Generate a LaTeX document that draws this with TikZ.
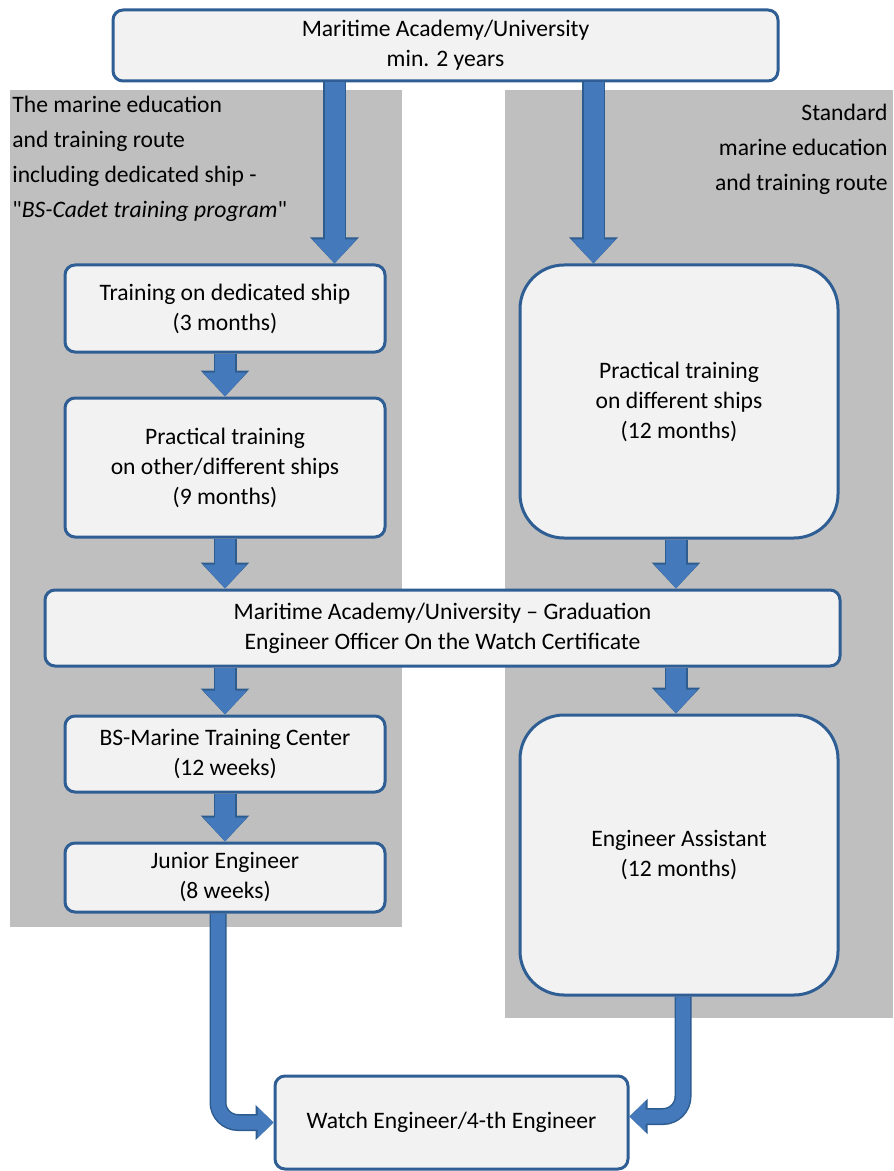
\documentclass[tikz,border=0pt]{standalone}
\usepackage{fontspec}
\setmainfont{Carlito}
\usetikzlibrary{arrows.meta,positioning,calc}
\definecolor{panelgrey}{HTML}{BFBFBF}
\definecolor{boxfill}{HTML}{F2F2F2}
\definecolor{boxline}{HTML}{2E5E93}
\definecolor{flowblue}{HTML}{4479BB}
\definecolor{flowedge}{HTML}{2D5C8F}

\begin{document}
\begin{tikzpicture}[x=0.5pt,y=-0.5pt,
  every node/.style={font=\fontsize{11.8}{15}\selectfont},
  box/.style={draw=boxline,fill=boxfill,line width=1.5pt,rounded corners=5pt,align=center,inner sep=0pt,minimum width=160pt},
  bigbox/.style={box,rounded corners=22pt,minimum width=159pt},
  note/.style={inner sep=0pt,font=\fontsize{11.8}{17.5}\selectfont},
  flow/.style={draw=flowblue,line width=10pt,-{Triangle[length=12pt,width=21pt]},
    preaction={draw=flowedge,line width=11.5pt,-{Triangle[length=13pt,width=23.5pt]}}},
  turn/.style={draw=flowblue,line width=7pt,rounded corners=10pt,-{Triangle[length=8pt,width=15pt]},
    preaction={draw=flowedge,line width=8.5pt,-{Triangle[length=9pt,width=17pt]}}}]
  \useasboundingbox (0,0) rectangle (893,1171);
  \fill[panelgrey] (10,90) rectangle (402,927);
  \fill[panelgrey] (505,90) rectangle (893,1018);
  \node[note,anchor=north west,align=left] (cadetnote) at (12,96)
    {The marine education\\and training route\\including dedicated ship -\\\textquotedbl\textit{BS-Cadet training program}\textquotedbl};
  \node[note,anchor=north east,align=right] (stdnote) at (888,104)
    {Standard\\marine education\\and training route};

  \node[box,minimum width=332.5pt,minimum height=35.5pt] (academy) at (445.5,45.5) {Maritime Academy/University\\min. 2 years};
  \node[box,minimum height=43.5pt] (dedicated) at (225,308.5) {Training on dedicated ship\\(3 months)};
  \node[box,minimum height=69.5pt] (othership) at (225,467.5) {Practical training\\on other/different ships\\(9 months)};
  \node[bigbox,minimum height=136.5pt] (diffship) at (679,401.5) {Practical training\\on different ships\\(12 months)};
  \node[box,minimum width=397.5pt,minimum height=38pt] (graduation) at (442.5,628) {Maritime Academy/University -- Graduation\\Engineer Officer On the Watch Certificate};
  \node[box,minimum height=38pt] (center) at (225,754) {BS-Marine Training Center\\(12 weeks)};
  \node[box,minimum height=34.5pt] (junior) at (225,877.5) {Junior Engineer\\(8 weeks)};
  \node[bigbox,minimum height=140pt] (assistant) at (679,855) {Engineer Assistant\\(12 months)};
  \node[box,minimum width=176.5pt,minimum height=46.5pt] (watch) at (451.5,1122.5) {Watch Engineer/4-th Engineer};

  \coordinate (cadetin) at ([xshift=-26pt]dedicated.north east);
  \coordinate (stdin) at ([xshift=37.5pt]diffship.north west);
  \draw[flow] (academy.south -| cadetin) -- (cadetin);
  \draw[flow] (academy.south -| stdin) -- (stdin);
  \draw[flow] (dedicated) -- (othership);
  \draw[flow] (othership) -- (othership.south |- graduation.north);
  \draw[flow] ([xshift=-1.5pt]diffship.south) -- ([xshift=-1.5pt]diffship.south |- graduation.north);
  \draw[flow] (graduation.south -| center) -- (center);
  \draw[flow] ([xshift=-1.5pt]graduation.south -| assistant) -- ([xshift=-1.5pt]assistant.north);
  \draw[flow] (center) -- (junior);
  \draw[turn] ([xshift=-3.5pt]junior.south) |- (watch.west);
  \draw[turn] ([xshift=2pt]assistant.south) |- ([yshift=3pt]watch.east);
\end{tikzpicture}
\end{document}
